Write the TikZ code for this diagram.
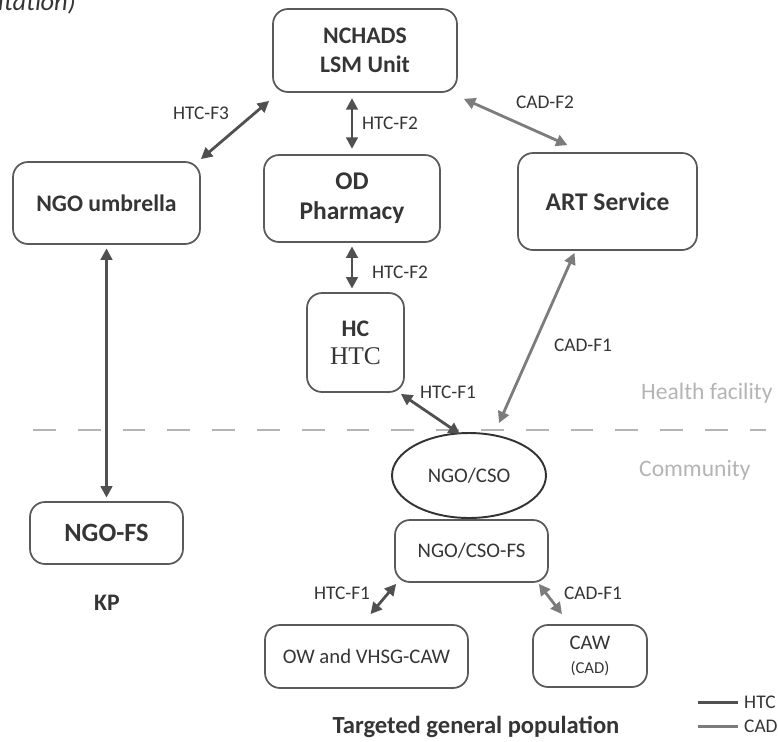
\documentclass[tikz,border=0pt]{standalone}
\usepackage{fontspec}
\setmainfont{Carlito}
\newfontfamily\timesrm{Liberation Serif}
\usetikzlibrary{arrows.meta,shapes.geometric}
\definecolor{txt}{HTML}{353535}
\definecolor{edge}{HTML}{5A5A5A}
\definecolor{htccol}{HTML}{505050}
\definecolor{cadcol}{HTML}{7C7C7C}
\definecolor{sep}{HTML}{B4B4B4}
\begin{document}
\begin{tikzpicture}[x=0.02cm,y=-0.02cm,
  box/.style={draw=edge,line width=1pt,rounded corners=0.3cm,align=center,text=txt,inner sep=0pt},
  big/.style={font=\bfseries\fontsize{13.5}{16.5}\selectfont},
  mid/.style={font=\fontsize{11.8}{14}\selectfont},
  lbl/.style={text=txt,font=\fontsize{11}{13}\selectfont},
  zone/.style={text=sep,font=\fontsize{13.4}{15}\selectfont},
  htc/.style={<->,>={Triangle[length=6.5pt,width=6.5pt]},draw=htccol,line width=1.6pt},
  cad/.style={<->,>={Triangle[length=6.5pt,width=6.5pt]},draw=cadcol,line width=1.6pt}]
\useasboundingbox (0,0) rectangle (778,741);
\node[anchor=base east,text=txt,font=\itshape\fontsize{15}{15}\selectfont] (cap) at (82,10) {itation)};
\node[box,big,minimum width=3.68cm,minimum height=1.66cm] (nchads) at (365,50.5) {NCHADS\\LSM Unit};
\node[box,big,minimum width=3.74cm,minimum height=1.64cm] (umbrella) at (106.5,203) {NGO umbrella};
\node[box,big,minimum width=3.52cm,minimum height=1.74cm,font=\bfseries\fontsize{14.5}{17}\selectfont] (od) at (352,198.5) {OD\\Pharmacy};
\node[box,big,minimum width=3.58cm,minimum height=1.94cm,font=\bfseries\fontsize{14.5}{17}\selectfont] (art) at (607.5,201.5) {ART Service};
\node[box,big,minimum width=1.94cm,minimum height=1.98cm,font=\bfseries\fontsize{13.5}{16}\selectfont] (hc) at (355.5,342.5) {HC\\{\timesrm\mdseries\fontsize{14.5}{16}\selectfont HTC}};
\node[draw=black!80,line width=1.1pt,ellipse,minimum width=3.08cm,minimum height=1.7cm,inner sep=0pt,text=txt,mid] (ngocso) at (469,475.5) {NGO/CSO};
\node[box,mid,minimum width=3.06cm,minimum height=1.24cm] (csofs) at (471.5,551) {NGO/CSO-FS};
\node[box,big,minimum width=3.06cm,minimum height=1.24cm,font=\bfseries\fontsize{15}{17}\selectfont] (ngofs) at (106.5,533) {NGO-FS};
\node[text=txt,big] (kp) at (107,603) {KP};
\node[box,mid,minimum width=4.06cm,minimum height=1.26cm] (ow) at (366.5,656.5) {OW and VHSG-CAW};
\node[box,mid,minimum width=2.28cm,minimum height=1.24cm] (caw) at (590,656) {CAW\\{\fontsize{9.5}{11}\selectfont (CAD)}};
\node[text=txt,font=\bfseries\fontsize{14}{16}\selectfont] (target) at (476,727) {Targeted general population};
\node[zone,anchor=west] (health) at (635,393) {Health facility};
\node[zone,anchor=west] (community) at (633,470) {Community};
\draw[sep,line width=1.5pt,dash pattern=on 13pt off 12.5pt] (33,430) -- (766,430);
\draw[htc] ([shift={(0,-2)}]umbrella.north east) -- ([shift={(-3,8)}]nchads.south west);
\node[lbl] (f3) at (201,113) {HTC-F3};
\draw[htc,shorten <=3pt,shorten >=3pt] (od.north |- nchads.south) -- (od.north);
\node[lbl] (f2a) at (390,123) {HTC-F2};
\draw[cad] ([shift={(6,6)}]nchads.south east) -- ([shift={(-40,-7)}]art.north);
\node[lbl] (c2) at (545,102) {CAD-F2};
\draw[htc,shorten <=2pt,shorten >=2pt] (od.south) -- (od.south |- hc.north);
\node[lbl] (f2b) at (400,272) {HTC-F2};
\draw[cad] ([shift={(-33,2)}]art.south) -- ([shift={(30,-9)}]ngocso.north);
\node[lbl] (c1a) at (583,345) {CAD-F1};
\draw[htc] ([shift={(-4,1)}]hc.south east) -- ([shift={(-9,2)}]ngocso.north);
\node[lbl] (f1a) at (448,392) {HTC-F1};
\draw[htc,shorten <=2pt,shorten >=2pt] (umbrella.south) -- (ngofs.north);
\draw[htc] ([shift={(2,1)}]csofs.south west) -- ([shift={(4,-10)}]ow.north);
\node[lbl] (f1b) at (342,593) {HTC-F1};
\draw[cad] ([shift={(-10,1)}]csofs.south east) -- ([shift={(-28,-10)}]caw.north);
\node[lbl] (c1b) at (593,593) {CAD-F1};
\node[lbl,anchor=west] (khtc) at (738,702) {HTC};
\node[lbl,anchor=west] (kcad) at (738,726) {CAD};
\draw[htccol,line width=1.7pt] (698,702) -- (khtc.west);
\draw[cadcol,line width=1.7pt] (698,726) -- (kcad.west);
\end{tikzpicture}
\end{document}
